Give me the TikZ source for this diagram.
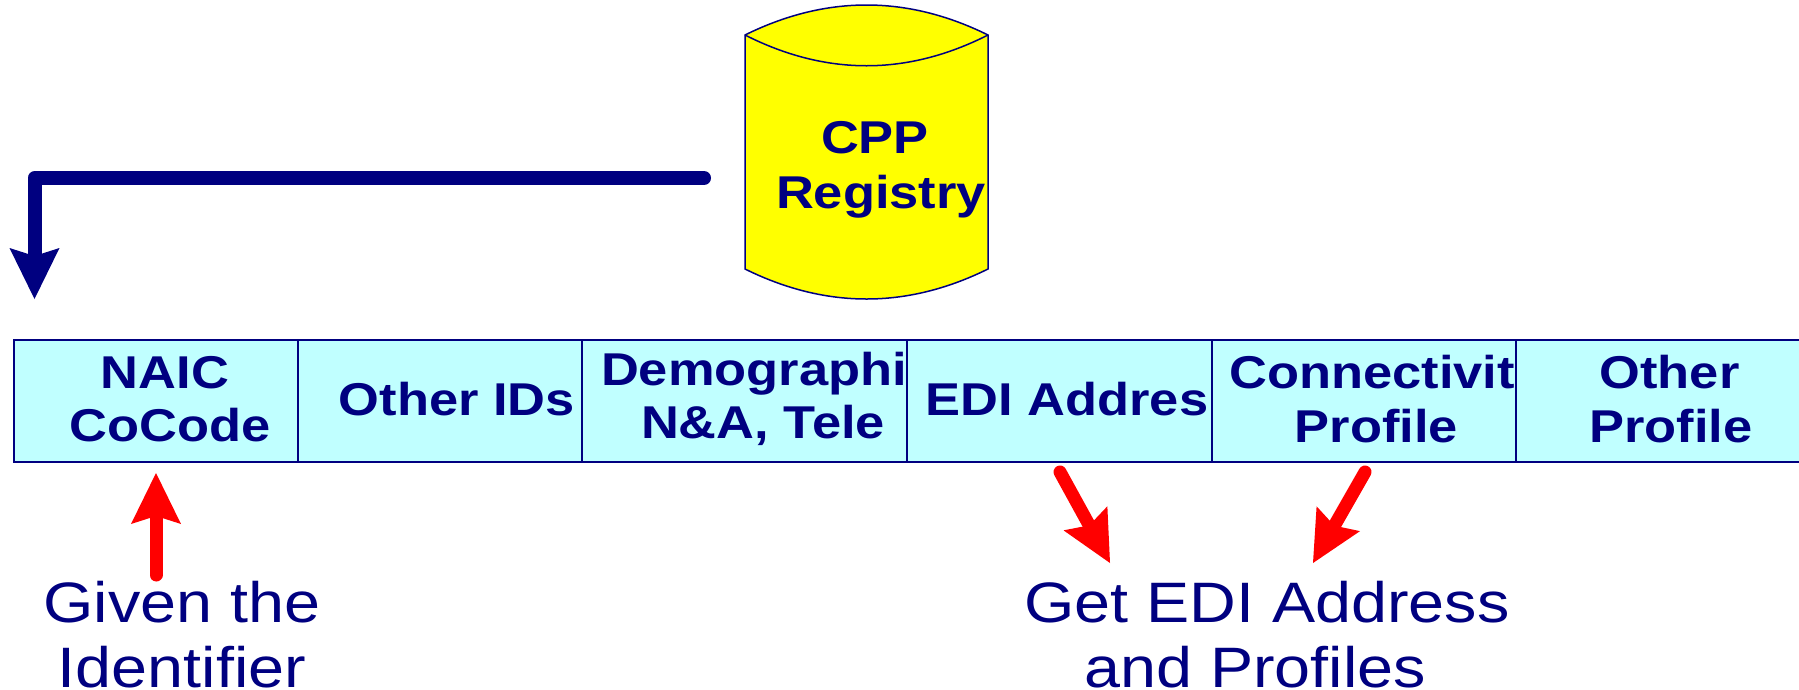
\documentclass[tikz,border=0pt]{standalone}
\usepackage{fontspec}
\setmainfont{Liberation Sans}
\newfontfamily\cellfont[FakeStretch=1.14,BoldFont={Liberation Sans Bold}]{Liberation Sans}
\newfontfamily\notefont[FakeStretch=1.135]{Liberation Sans}
\usetikzlibrary{arrows.meta}
\definecolor{navyink}{HTML}{000080}
\definecolor{cellfill}{HTML}{C0FFFF}
\definecolor{drumfill}{HTML}{FFFF00}
\definecolor{pointerred}{HTML}{FF0000}

\begin{document}
\begin{tikzpicture}[x=1pt,y=-1pt]
\tikzstyle{cell}=[draw=navyink,line width=1.5pt,fill=cellfill,minimum height=122pt,inner sep=0pt]
\tikzstyle{celltext}=[text=navyink,align=center,inner sep=0pt,font=\cellfont\bfseries\fontsize{46}{53.5}\selectfont]
\tikzstyle{note}=[text=navyink,align=center,inner sep=0pt,font=\notefont\fontsize{57}{65}\selectfont]
\tikzstyle{pointer}=[pointerred,line width=13pt,line cap=round,-{Stealth[length=51pt,width=50pt,inset=8pt,line width=0pt]}]
\useasboundingbox (0,0) rectangle (1799,689);

% registry drum
\draw[navyink,line width=1.5pt,fill=drumfill] (745,35) .. controls (826,-5) and (907,-5) .. (988,35)
  -- (988,269) .. controls (907,309) and (826,309) .. (745,269) -- cycle;
\draw[navyink,line width=1.5pt] (745,35) .. controls (826,76) and (907,76) .. (988,35);
\node[celltext,font=\cellfont\bfseries\fontsize{46}{55}\selectfont] (cpp) at (881,170) {CPP\hspace*{12pt}\\Registry};

% record strip
\node[cell,minimum width=284pt] (naic) at (156,401) {};
\node[cell,minimum width=284pt] (ids) at (440,401) {};
\node[cell,minimum width=325pt] (demo) at (744.5,401) {};
\node[cell,minimum width=305pt] (edi) at (1059.5,401) {};
\node[cell,minimum width=304pt] (conn) at (1364,401) {};
\node[cell,minimum width=300pt] (other) at (1666,401) {};
\node[celltext] (naictxt) at (170,399) {NAIC\hspace*{10pt}\\CoCode};
\node[celltext] (idstxt) at (457,399) {Other IDs};
\node[celltext] (demotxt) at (754,399) {Demographi\\\hspace*{18pt}N\&A, Tele};
\node[celltext] (editxt) at (1067,399) {EDI Addres};
\node[celltext] (conntxt) at (1372,399) {Connectivit\\\hspace*{9pt}Profile};
\node[celltext] (othertxt) at (1671,399) {Other\hspace*{3pt}\\Profile};

% notes
\node[note] (given) at (182,635) {Given the\\Identifier};
\node[note] (getedi) at (1267,635) {Get EDI Address\\and Profiles\hspace*{24pt}};

% connectors
\coordinate (drumout) at (704,178);
\coordinate (stripin) at (34.5,299);
\draw[navyink,line width=14pt,line cap=round,line join=round,-{Stealth[length=51pt,width=50pt,inset=8pt,line width=0pt]}] (drumout) -| (stripin);
\coordinate (givenout) at (156,575);
\coordinate (naicin) at (156,473);
\draw[pointer] (givenout) -- (naicin);
\coordinate (ediout) at (1060,472);
\coordinate (getA) at (1110,563);
\draw[pointer] (ediout) -- (getA);
\coordinate (connout) at (1365,472);
\coordinate (getB) at (1313,563);
\draw[pointer] (connout) -- (getB);
\end{tikzpicture}
\end{document}
